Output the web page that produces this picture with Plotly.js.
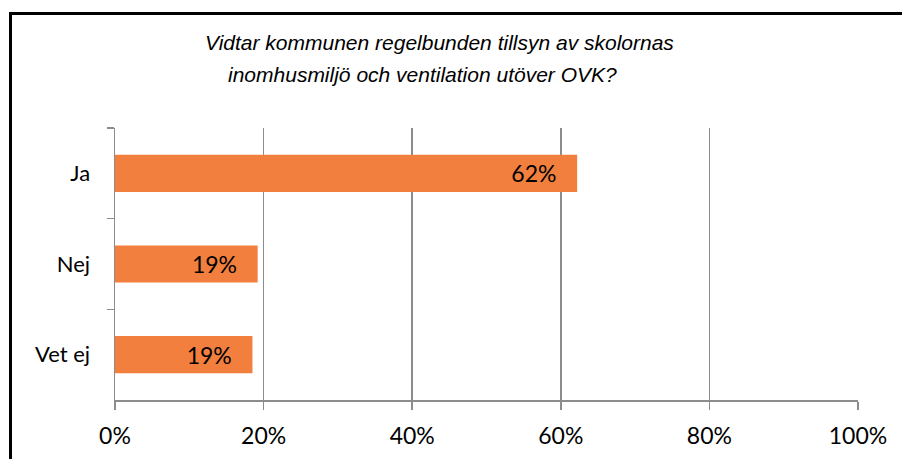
<!DOCTYPE html>
<html>
<head>
<meta charset="utf-8">
<script src="https://cdn.plot.ly/plotly-3.0.1.min.js"></script>
<style>
  html, body { margin: 0; padding: 0; background: #fff; overflow: hidden; }
  #wrap { position: relative; width: 902px; height: 459px; }
  #chart { position: absolute; left: 0; top: 0; width: 902px; height: 459px; }
  #frame { position: absolute; left: 9px; top: 12px; width: 900px; height: 460px;
           border-left: 3px solid #000; border-top: 3px solid #000; pointer-events: none; }
</style>
</head>
<body>
<div id="wrap">
  <div id="chart"></div>
  <div id="frame"></div>
</div>
<script>
const categories = ["Ja", "Nej", "Vet ej"];
const values = [62.2, 19.2, 18.5];
const labels = ["62%", "19%", "19%"];
const tickVals = [0, 20, 40, 60, 80, 100];
const tickText = ["0%", "20%", "40%", "60%", "80%", "100%"];
const titleLines = [
  "Vidtar kommunen regelbunden tillsyn av skolornas",
  "inomhusmiljö och ventilation utöver OVK?"
];

const bodyFont = "Lato, 'Open Sans', sans-serif";
const titleFont = { family: "'Liberation Sans', Arial, sans-serif", size: 21, color: "#000", style: "italic" };
const pad = "\u00a0\u00a0\u00a0";

const titleX = [0.4361, 0.4139];
const titleY = [1.316, 1.1985];

Plotly.newPlot("chart", [{
  type: "bar",
  orientation: "h",
  y: categories,
  x: values,
  text: labels.map(t => t + pad),
  textposition: "inside",
  insidetextanchor: "end",
  textfont: { family: bodyFont, size: 23, color: "#000" },
  marker: { color: "#F27F3D" },
  hoverinfo: "none",
  cliponaxis: false
}], {
  width: 902,
  height: 459,
  margin: { l: 115, r: 44, t: 128, b: 59 },
  paper_bgcolor: "#fff",
  plot_bgcolor: "#fff",
  bargap: 0.59,
  showlegend: false,
  annotations: titleLines.map((t, i) => ({
    text: t,
    xref: "paper", yref: "paper",
    x: titleX[i], y: titleY[i],
    xanchor: "center", yanchor: "middle",
    showarrow: false,
    font: titleFont
  })),
  xaxis: {
    range: [0, 100],
    tickvals: tickVals,
    ticktext: tickText,
    showgrid: true,
    gridcolor: "#8c8c8c",
    gridwidth: 1.5,
    zeroline: false,
    showline: true,
    linecolor: "#8c8c8c",
    linewidth: 1.5,
    ticks: "outside",
    ticklen: 8,
    tickcolor: "#8c8c8c",
    tickwidth: 1.5,
    ticklabelstandoff: 7,
    tickfont: { family: bodyFont, size: 23, color: "#000" },
    fixedrange: true
  },
  yaxis: {
    autorange: "reversed",
    showline: true,
    linecolor: "#8c8c8c",
    linewidth: 1.5,
    showgrid: false,
    zeroline: false,
    ticks: "outside",
    ticklen: 7,
    tickcolor: "#8c8c8c",
    tickwidth: 1.5,
    tickson: "boundaries",
    ticklabelstandoff: 19,
    tickfont: { family: bodyFont, size: 22, color: "#000" },
    fixedrange: true
  }
}, { displayModeBar: false, staticPlot: true });
</script>
</body>
</html>
